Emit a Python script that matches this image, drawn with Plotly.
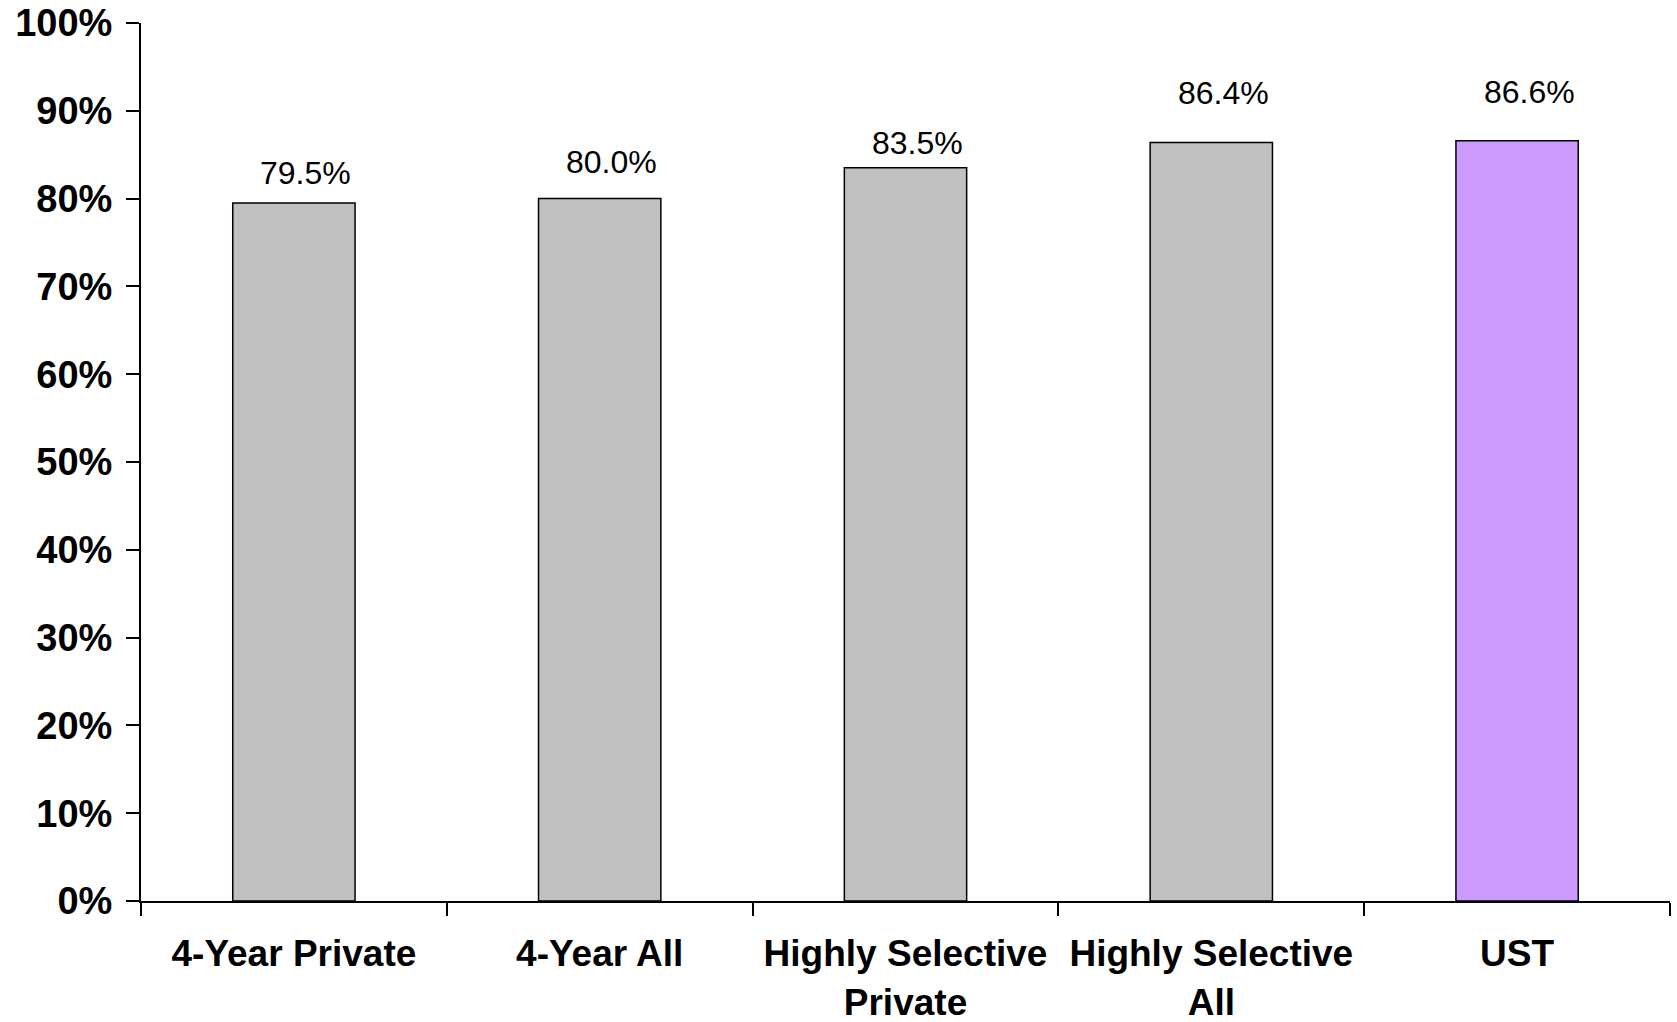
import plotly.graph_objects as go

# ---- data ----
categories = ["4-Year Private", "4-Year All", "Highly Selective<br>Private", "Highly Selective<br>All", "UST"]
values = [79.5, 80.0, 83.5, 86.4, 86.6]
y_ticks = [0, 10, 20, 30, 40, 50, 60, 70, 80, 90, 100]
y_tick_labels = ["0%", "10%", "20%", "30%", "40%", "50%", "60%", "70%", "80%", "90%", "100%"]

# ---- style ----
FONT = "Liberation Sans, Arial, sans-serif"
bar_colors = ["#C0C0C0", "#C0C0C0", "#C0C0C0", "#C0C0C0", "#CC99FF"]
label_lift_px = [10, 17, 5, 29, 29]  # vertical gap of each value label above its bar

fig = go.Figure()
fig.add_trace(go.Bar(
    x=categories,
    y=values,
    width=0.4,
    marker=dict(color=bar_colors, line=dict(color="black", width=1.5)),
    hoverinfo="skip",
))

for c, v, lift in zip(categories, values, label_lift_px):
    fig.add_annotation(
        x=c, y=v, text=f"{v:.1f}%", showarrow=False,
        yanchor="bottom", yshift=lift, xshift=12,
        font=dict(family=FONT, size=32, color="black"),
    )

fig.update_layout(
    width=1677, height=1022,
    margin=dict(l=141, r=7, t=23, b=121),
    paper_bgcolor="white", plot_bgcolor="white",
    showlegend=False,
)
fig.update_xaxes(
    type="category", automargin=False,
    showline=True, linecolor="black", linewidth=2,
    ticks="outside", tickson="boundaries", ticklen=13, tickwidth=2, tickcolor="black",
    tickfont=dict(family=FONT, size=37, color="black", weight="bold"),
    ticklabelstandoff=19,
    showgrid=False, zeroline=False,
    range=[-0.5, 4.5],
)
fig.update_yaxes(
    range=[0, 100], tickmode="array", tickvals=y_ticks, ticktext=y_tick_labels,
    automargin=False,
    showline=True, linecolor="black", linewidth=2,
    ticks="outside", ticklen=13, tickwidth=2, tickcolor="black",
    tickfont=dict(family=FONT, size=38, color="black", weight="bold"),
    ticklabelstandoff=6,
    showgrid=False, zeroline=False,
)

fig.write_html("out.html")
